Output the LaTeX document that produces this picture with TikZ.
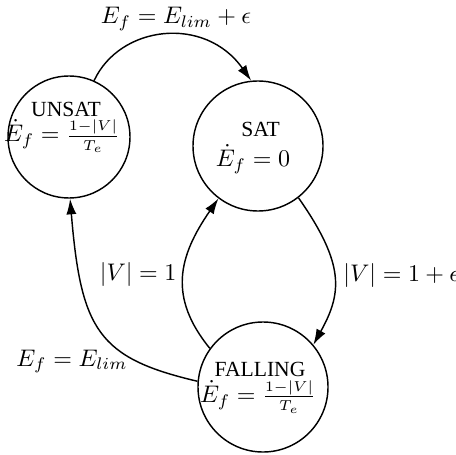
\documentclass[tikz,border=0pt]{standalone}
\usepackage{fontspec}
\newfontfamily\txtfont{Liberation Serif}
\usetikzlibrary{arrows.meta}
\newcommand\myfracpart[1]{\mbox{\fontsize{6.2}{7}\selectfont$#1$}}
\newcommand\myfrac[2]{\frac{\myfracpart{#1}}{\myfracpart{#2}}}
\begin{document}
\begin{tikzpicture}[x=0.41667pt,y=-0.41667pt,
  statebig/.style={circle,draw,line width=0.6pt,inner sep=0pt,minimum size=54.17pt},
  statesmall/.style={circle,draw,line width=0.6pt,inner sep=0pt,minimum size=50.83pt},
  namelbl/.style={inner sep=0pt,anchor=base,font=\txtfont\fontsize{9}{10}\selectfont},
  formlbl/.style={inner sep=0pt,anchor=base},
  edgelbl/.style={inner sep=0pt},
  trans/.style={line width=0.6pt,-{Latex[length=6.5pt,width=4.2pt]}}]
\useasboundingbox (0,0) rectangle (456,454);
% states
\node[statesmall] (u) at (69,137) {};
\node[statebig] (s) at (258,146) {};
\node[statebig] (f) at (263,387) {};
% state texts
\node[namelbl] (un) at (66,117) {UNSAT};
\node[formlbl] (uf) at (62,142) {$\dot{E}_f = \myfrac{1{-}|V|}{T_e}$};
\node[namelbl] (sn) at (260.5,137) {SAT};
\node[formlbl] (sf) at (253,167) {$\dot{E}_f = 0$};
\node[namelbl] (fn) at (260,376) {FALLING};
\node[formlbl] (ff) at (258,402.5) {$\dot{E}_f = \myfrac{1{-}|V|}{T_e}$};
% transitions
\draw[trans] (u.66) .. controls (120,25) and (205,15) .. (s.96);
\draw[trans] (s.-52) .. controls (345.4,264.7) and (341.9,293.3) .. (f.40);
\draw[trans] (f.144.5) .. controls (168,297) and (178.4,256.5) .. (s.233.5);
\draw[trans] (f.175) .. controls (98,358) and (81,330) .. (u.-89);
% transition labels
\node[edgelbl,anchor=base] (l1) at (176,24) {$E_f = E_{lim} + \epsilon$};
\node[edgelbl,anchor=base west] (l2) at (343,281) {$|V| = 1 + \epsilon$};
\node[edgelbl,anchor=base east] (l3) at (177,280) {$|V| = 1$};
\node[edgelbl,anchor=base east] (l4) at (128,366) {$E_f = E_{lim}$};
\end{tikzpicture}
\end{document}
